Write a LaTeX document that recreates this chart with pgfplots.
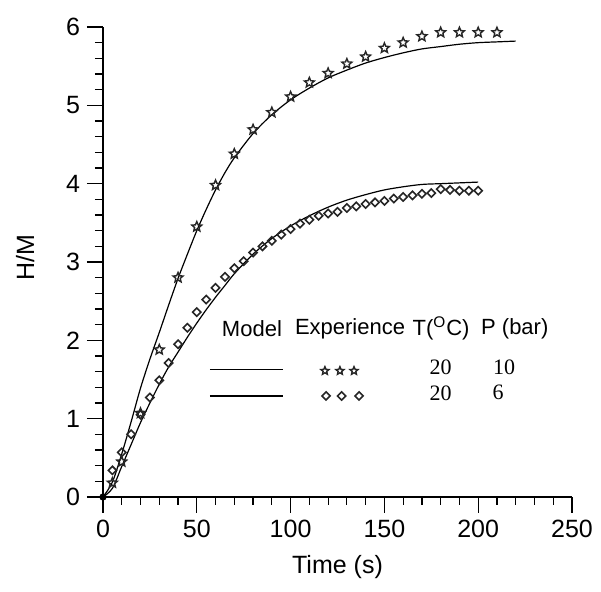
\documentclass[border=0pt]{standalone}
\usepackage{fontspec}
\setmainfont{Liberation Sans}
\newfontfamily\seriffont{Liberation Serif}
\usepackage{pgfplots}
\pgfplotsset{compat=1.18}
\pgfdeclareplotmark{ostar}{%
  \pgfpathmoveto{\pgfpointpolar{90}{\pgfplotmarksize}}%
  \pgfpathlineto{\pgfpointpolar{126}{0.45\pgfplotmarksize}}%
  \pgfpathlineto{\pgfpointpolar{162}{\pgfplotmarksize}}%
  \pgfpathlineto{\pgfpointpolar{198}{0.45\pgfplotmarksize}}%
  \pgfpathlineto{\pgfpointpolar{234}{\pgfplotmarksize}}%
  \pgfpathlineto{\pgfpointpolar{270}{0.45\pgfplotmarksize}}%
  \pgfpathlineto{\pgfpointpolar{306}{\pgfplotmarksize}}%
  \pgfpathlineto{\pgfpointpolar{342}{0.45\pgfplotmarksize}}%
  \pgfpathlineto{\pgfpointpolar{18}{\pgfplotmarksize}}%
  \pgfpathlineto{\pgfpointpolar{54}{0.45\pgfplotmarksize}}%
  \pgfpathclose\pgfusepathqstroke}
\begin{document}
\begin{tikzpicture}
\path[use as bounding box] (-51.5pt,-47.5pt) rectangle (249pt,248.5pt);
\begin{axis}[
  scale only axis, width=234.5pt, height=235pt,
  anchor=south west, at={(0,0)},
  axis x line=bottom, axis y line=left,
  axis line style={-, line width=0.6pt},
  enlargelimits=false,
  xmin=0, xmax=250, ymin=0, ymax=6,
  xtick={0,50,...,250}, ytick={0,1,...,6},
  minor x tick num=4, minor y tick num=4,
  tick align=outside,
  major tick length=8pt, minor tick length=4pt,
  tick style={black, line width=0.6pt},
  /pgf/number format/assume math mode=true,
  tick label style={font=\fontsize{12.5}{14}\selectfont},
  label style={font=\fontsize{12.5}{14}\selectfont},
  xlabel={Time (s)}, ylabel={H/M},
  x label style={at={(axis description cs:0.5,-0.149)}, anchor=center},
  y label style={at={(axis description cs:-0.166,0.51)}, anchor=center},
  clip=false,
]
% Model 10 bar
\addplot[black, line width=0.6pt, smooth] coordinates {
(0,0) (5,0.19) (10,0.55) (15,0.96) (20,1.39) (25,1.76) (30,2.1) (35,2.45) (40,2.79)
(45,3.1) (50,3.4) (55,3.67) (60,3.92) (65,4.14) (70,4.33) (80,4.64) (90,4.88)
(100,5.07) (110,5.22) (120,5.35) (130,5.45) (140,5.54) (150,5.61) (160,5.67)
(170,5.72) (180,5.75) (190,5.78) (200,5.80) (210,5.81) (220,5.82)};
% Model 6 bar
\addplot[black, line width=0.6pt, smooth] coordinates {
(0,0) (5,0.11) (10,0.39) (15,0.67) (20,0.95) (25,1.2) (30,1.44) (35,1.66) (40,1.85)
(45,2.04) (50,2.22) (55,2.39) (60,2.55) (65,2.7) (70,2.85) (80,3.1) (90,3.3) (100,3.46)
(110,3.59) (120,3.7) (130,3.79) (140,3.86) (150,3.92) (160,3.96) (170,3.99)
(180,4.0) (190,4.01) (200,4.02)};
% Experiments 10 bar
\addplot[only marks, mark=ostar, mark size=2.6pt, black!85, mark options={line width=0.7pt}] coordinates {
(5,0.18) (10,0.45) (20,1.07) (30,1.88) (40,2.8) (50,3.45) (60,3.98) (70,4.38) (80,4.69)
(90,4.91) (100,5.11) (110,5.29) (120,5.41) (130,5.53) (140,5.62) (150,5.73) (160,5.80)
(170,5.88) (180,5.93) (190,5.93) (200,5.93) (210,5.93)};
% Experiments 6 bar
\addplot[only marks, mark=square, mark size=1.45pt, black!85, mark options={line width=0.8pt, rotate=45}] coordinates {
(5,0.34) (10,0.57) (15,0.8) (20,1.05) (25,1.27) (30,1.49) (35,1.71) (40,1.95) (45,2.16)
(50,2.36) (55,2.52) (60,2.67) (65,2.81) (70,2.92) (75,3.01) (80,3.12) (85,3.20)
(90,3.27) (95,3.35) (100,3.42) (105,3.49) (110,3.54) (115,3.59) (120,3.62) (125,3.64)
(130,3.69) (135,3.71) (140,3.74) (145,3.76) (150,3.78) (155,3.81) (160,3.83) (165,3.85)
(170,3.87) (175,3.88) (180,3.93) (185,3.92) (190,3.91) (195,3.91) (200,3.91)};
\addplot[only marks, mark=*, mark size=1.6pt, black] coordinates {(0,0)};
% legend samples
\addplot[black, line width=0.6pt] coordinates {(57,1.63) (96,1.63)};
\addplot[black, line width=0.6pt] coordinates {(57,1.29) (96,1.29)};
\addplot[only marks, mark=ostar, mark size=2.1pt, black!85, mark options={line width=0.7pt}] coordinates {(118.3,1.61) (126.3,1.61) (133.8,1.61)};
\addplot[only marks, mark=square, mark size=1.45pt, black!85, mark options={line width=0.8pt, rotate=45}] coordinates {(118.9,1.29) (127.2,1.29) (136.5,1.29)};
\node[font=\fontsize{11}{12}\selectfont] at (axis cs:79.4,2.15) {Model};
\node[font=\fontsize{11}{12}\selectfont] at (axis cs:131.7,2.15) {Experience};
\node[font=\fontsize{11}{12}\selectfont] at (axis cs:180.2,2.15) {T(\textsuperscript{O}C)};
\node[font=\fontsize{11}{12}\selectfont] at (axis cs:219.5,2.15) {P (bar)};
\node[font=\seriffont\fontsize{11}{12}\selectfont] at (axis cs:180,1.66) {20};
\node[font=\seriffont\fontsize{11}{12}\selectfont] at (axis cs:213.8,1.66) {10};
\node[font=\seriffont\fontsize{11}{12}\selectfont] at (axis cs:180,1.33) {20};
\node[font=\seriffont\fontsize{11}{12}\selectfont] at (axis cs:210.6,1.33) {6};
\end{axis}
\end{tikzpicture}
\end{document}
